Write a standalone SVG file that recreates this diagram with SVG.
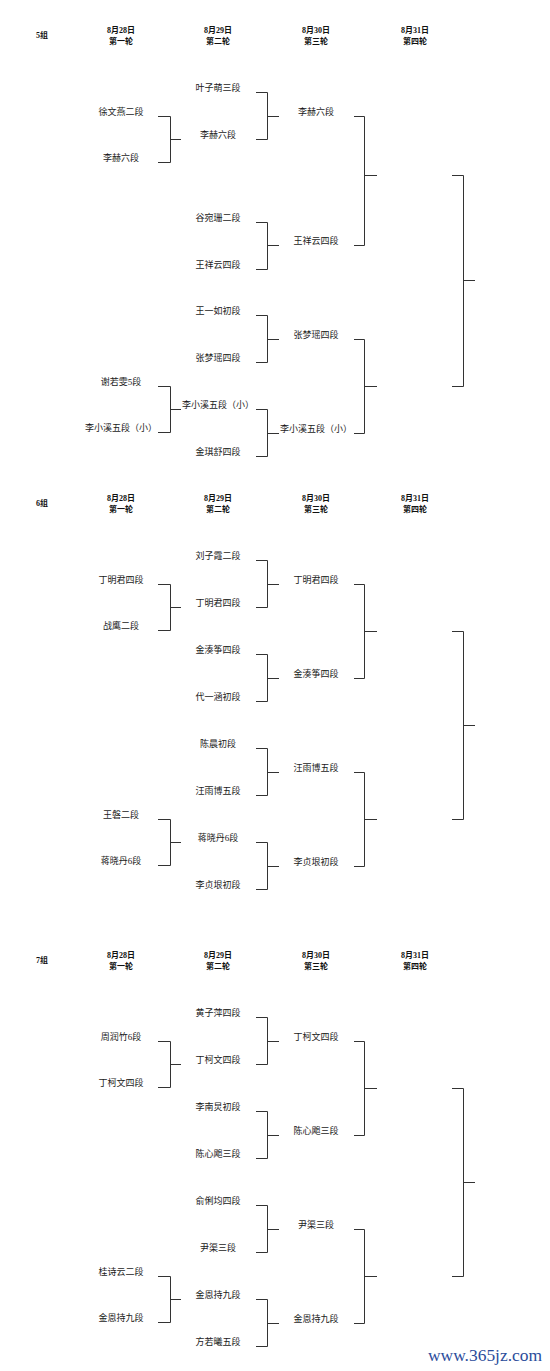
<svg xmlns="http://www.w3.org/2000/svg" width="550" height="1371" viewBox="0 0 550 1371">
<style>
.bg{fill:#ffffff}
.h{font-family:"Liberation Serif","Noto Sans CJK SC",serif;font-size:8px;font-weight:bold;fill:#111;text-anchor:middle}
.n{font-family:"Liberation Serif","Noto Sans CJK SC",serif;font-size:9px;fill:#1a1a1a;text-anchor:middle}
.c{fill:none;stroke:#333;stroke-width:1}
.wm{font-family:"Liberation Serif",serif;font-size:17px;fill:#2b4c9b}
</style>
<rect class="bg" x="0" y="0" width="550" height="1371"/>

<!-- ===== 5组 ===== -->
<g id="sec5">
  <g id="s5-head">
    <text class="h" x="42" y="37.5">5组</text>
    <text class="h" x="121" y="33">8月28日</text><text class="h" x="121" y="43.5">第一轮</text>
    <text class="h" x="218" y="33">8月29日</text><text class="h" x="218" y="43.5">第二轮</text>
    <text class="h" x="316" y="33">8月30日</text><text class="h" x="316" y="43.5">第三轮</text>
    <text class="h" x="415" y="33">8月31日</text><text class="h" x="415" y="43.5">第四轮</text>
  </g>
  <g id="s5-connectors">
    <path class="c" d="M158 116.5H170.5V162.5H158M170.5 139.5H181"/>
    <path class="c" d="M158 386.5H170.5V432.5H158M170.5 409.5H181"/>
    <path class="c" d="M256 92.5H267.5V139.5H256M267.5 116.5H279"/>
    <path class="c" d="M256 222.5H267.5V269.5H256M267.5 245.5H279"/>
    <path class="c" d="M256 315.5H267.5V362.5H256M267.5 339.5H279"/>
    <path class="c" d="M256 409.5H267.5V456.5H256M267.5 433.5H279"/>
    <path class="c" d="M354 116.5H364.5V245.5H354M364.5 175.5H377"/>
    <path class="c" d="M354 339.5H364.5V433.5H354M364.5 386.5H377"/>
    <path class="c" d="M452 175.5H463.5V386.5H452M463.5 280.5H475"/>
  </g>
  <g id="s5-r1-1"><text class="n" x="121" y="115">徐文燕二段</text></g>
  <g id="s5-r1-2"><text class="n" x="121" y="161">李赫六段</text></g>
  <g id="s5-r1-3"><text class="n" x="121" y="385">谢若雯5段</text></g>
  <g id="s5-r1-4"><text class="n" x="121" y="431">李小溪五段（小）</text></g>
  <g id="s5-r2-1"><text class="n" x="218" y="91">叶子萌三段</text></g>
  <g id="s5-r2-2"><text class="n" x="218" y="138">李赫六段</text></g>
  <g id="s5-r2-3"><text class="n" x="218" y="221">谷宛珊二段</text></g>
  <g id="s5-r2-4"><text class="n" x="218" y="268">王祥云四段</text></g>
  <g id="s5-r2-5"><text class="n" x="218" y="314">王一如初段</text></g>
  <g id="s5-r2-6"><text class="n" x="218" y="361">张梦瑶四段</text></g>
  <g id="s5-r2-7"><text class="n" x="218" y="408">李小溪五段（小）</text></g>
  <g id="s5-r2-8"><text class="n" x="218" y="455">金琪舒四段</text></g>
  <g id="s5-r3-1"><text class="n" x="316" y="115">李赫六段</text></g>
  <g id="s5-r3-2"><text class="n" x="316" y="244">王祥云四段</text></g>
  <g id="s5-r3-3"><text class="n" x="316" y="338">张梦瑶四段</text></g>
  <g id="s5-r3-4"><text class="n" x="316" y="432">李小溪五段（小）</text></g>
</g>

<!-- ===== 6组 ===== -->
<g id="sec6" transform="translate(0,468)">
  <g id="s6-head">
    <text class="h" x="42" y="37.5">6组</text>
    <text class="h" x="121" y="33">8月28日</text><text class="h" x="121" y="43.5">第一轮</text>
    <text class="h" x="218" y="33">8月29日</text><text class="h" x="218" y="43.5">第二轮</text>
    <text class="h" x="316" y="33">8月30日</text><text class="h" x="316" y="43.5">第三轮</text>
    <text class="h" x="415" y="33">8月31日</text><text class="h" x="415" y="43.5">第四轮</text>
  </g>
  <g id="s6-connectors">
    <path class="c" d="M158 116.5H170.5V162.5H158M170.5 139.5H181"/>
    <path class="c" d="M158 351.5H170.5V397.5H158M170.5 374.5H181"/>
    <path class="c" d="M256 92.5H267.5V139.5H256M267.5 116.5H279"/>
    <path class="c" d="M256 186.5H267.5V233.5H256M267.5 210.5H279"/>
    <path class="c" d="M256 280.5H267.5V327.5H256M267.5 304.5H279"/>
    <path class="c" d="M256 374.5H267.5V421.5H256M267.5 398.5H279"/>
    <path class="c" d="M354 116.5H364.5V210.5H354M364.5 163.5H377"/>
    <path class="c" d="M354 304.5H364.5V398.5H354M364.5 351.5H377"/>
    <path class="c" d="M452 163.5H463.5V351.5H452M463.5 257.5H475"/>
  </g>
  <g id="s6-r1-1"><text class="n" x="121" y="115">丁明君四段</text></g>
  <g id="s6-r1-2"><text class="n" x="121" y="161">战鹰二段</text></g>
  <g id="s6-r1-3"><text class="n" x="121" y="350">王磐二段</text></g>
  <g id="s6-r1-4"><text class="n" x="121" y="396">蒋晓丹6段</text></g>
  <g id="s6-r2-1"><text class="n" x="218" y="91">刘子霞二段</text></g>
  <g id="s6-r2-2"><text class="n" x="218" y="138">丁明君四段</text></g>
  <g id="s6-r2-3"><text class="n" x="218" y="185">金湊筝四段</text></g>
  <g id="s6-r2-4"><text class="n" x="218" y="232">代一涵初段</text></g>
  <g id="s6-r2-5"><text class="n" x="218" y="279">陈晨初段</text></g>
  <g id="s6-r2-6"><text class="n" x="218" y="326">汪雨博五段</text></g>
  <g id="s6-r2-7"><text class="n" x="218" y="373">蒋晓丹6段</text></g>
  <g id="s6-r2-8"><text class="n" x="218" y="420">李贞垠初段</text></g>
  <g id="s6-r3-1"><text class="n" x="316" y="115">丁明君四段</text></g>
  <g id="s6-r3-2"><text class="n" x="316" y="209">金湊筝四段</text></g>
  <g id="s6-r3-3"><text class="n" x="316" y="303">汪雨博五段</text></g>
  <g id="s6-r3-4"><text class="n" x="316" y="397">李贞垠初段</text></g>
</g>

<!-- ===== 7组 ===== -->
<g id="sec7" transform="translate(0,925)">
  <g id="s7-head">
    <text class="h" x="42" y="37.5">7组</text>
    <text class="h" x="121" y="33">8月28日</text><text class="h" x="121" y="43.5">第一轮</text>
    <text class="h" x="218" y="33">8月29日</text><text class="h" x="218" y="43.5">第二轮</text>
    <text class="h" x="316" y="33">8月30日</text><text class="h" x="316" y="43.5">第三轮</text>
    <text class="h" x="415" y="33">8月31日</text><text class="h" x="415" y="43.5">第四轮</text>
  </g>
  <g id="s7-connectors">
    <path class="c" d="M158 116.5H170.5V162.5H158M170.5 139.5H181"/>
    <path class="c" d="M158 351.5H170.5V397.5H158M170.5 374.5H181"/>
    <path class="c" d="M256 92.5H267.5V139.5H256M267.5 116.5H279"/>
    <path class="c" d="M256 186.5H267.5V233.5H256M267.5 210.5H279"/>
    <path class="c" d="M256 280.5H267.5V327.5H256M267.5 304.5H279"/>
    <path class="c" d="M256 374.5H267.5V421.5H256M267.5 398.5H279"/>
    <path class="c" d="M354 116.5H364.5V210.5H354M364.5 163.5H377"/>
    <path class="c" d="M354 304.5H364.5V398.5H354M364.5 351.5H377"/>
    <path class="c" d="M452 163.5H463.5V351.5H452M463.5 257.5H475"/>
  </g>
  <g id="s7-r1-1"><text class="n" x="121" y="115">周润竹6段</text></g>
  <g id="s7-r1-2"><text class="n" x="121" y="161">丁柯文四段</text></g>
  <g id="s7-r1-3"><text class="n" x="121" y="350">桂诗云二段</text></g>
  <g id="s7-r1-4"><text class="n" x="121" y="396">金恩持九段</text></g>
  <g id="s7-r2-1"><text class="n" x="218" y="91">黄子萍四段</text></g>
  <g id="s7-r2-2"><text class="n" x="218" y="138">丁柯文四段</text></g>
  <g id="s7-r2-3"><text class="n" x="218" y="185">李南炅初段</text></g>
  <g id="s7-r2-4"><text class="n" x="218" y="232">陈心飑三段</text></g>
  <g id="s7-r2-5"><text class="n" x="218" y="279">俞俐均四段</text></g>
  <g id="s7-r2-6"><text class="n" x="218" y="326">尹渠三段</text></g>
  <g id="s7-r2-7"><text class="n" x="218" y="373">金恩持九段</text></g>
  <g id="s7-r2-8"><text class="n" x="218" y="420">方若曦五段</text></g>
  <g id="s7-r3-1"><text class="n" x="316" y="115">丁柯文四段</text></g>
  <g id="s7-r3-2"><text class="n" x="316" y="209">陈心飑三段</text></g>
  <g id="s7-r3-3"><text class="n" x="316" y="303">尹渠三段</text></g>
  <g id="s7-r3-4"><text class="n" x="316" y="397">金恩持九段</text></g>
</g>

<text class="wm" x="428" y="1361" textLength="114" lengthAdjust="spacingAndGlyphs">www.365jz.com</text>
</svg>
